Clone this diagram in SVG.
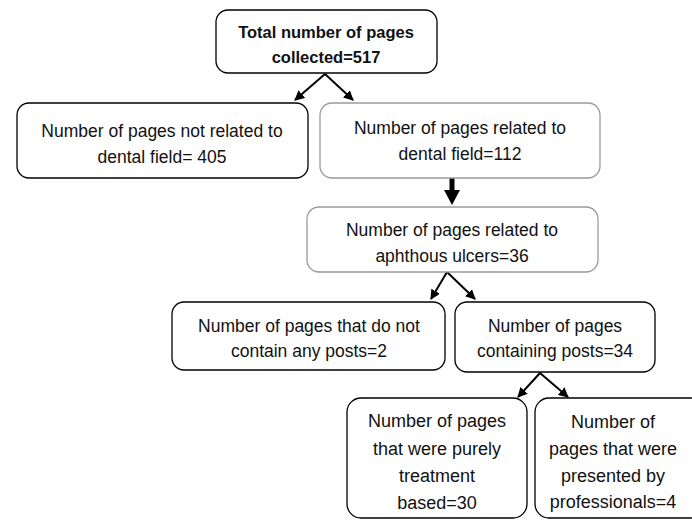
<svg xmlns="http://www.w3.org/2000/svg" width="692" height="520" viewBox="0 0 692 520">
<defs>
<style>
.box{fill:#fff;stroke:#000;stroke-width:1.3}
.gbox{fill:#fff;stroke:#9a9a9a;stroke-width:1.3}
text{font-family:"Liberation Sans",Arial,sans-serif;font-size:17.5px;fill:#111;text-anchor:middle}
.b{font-weight:bold;font-size:16.5px}
.l{font-size:18px}
.c{stroke:#000;stroke-width:2;fill:none}
</style>
<marker id="ah" viewBox="0 0 10 10" refX="9" refY="5" markerWidth="5" markerHeight="5" orient="auto-start-reverse">
<path d="M0,0 L10,5 L0,10 z" fill="#000"/>
</marker>
</defs>
<rect width="692" height="520" fill="#fff"/>
<g id="connectors">
<line class="c" x1="325" y1="74" x2="295" y2="100" marker-end="url(#ah)"/>
<line class="c" x1="325" y1="74" x2="353" y2="100" marker-end="url(#ah)"/>
<line x1="452" y1="178" x2="452" y2="192" stroke="#000" stroke-width="5"/>
<path d="M444,190 L460,190 L452,205 z" fill="#000"/>
<line class="c" x1="447" y1="272" x2="431" y2="299" marker-end="url(#ah)"/>
<line class="c" x1="447" y1="272" x2="475" y2="299" marker-end="url(#ah)"/>
<line class="c" x1="540" y1="373" x2="518" y2="397" marker-end="url(#ah)"/>
<line class="c" x1="540" y1="373" x2="568" y2="397" marker-end="url(#ah)"/>
</g>
<g id="n_total">
<rect class="box" x="216" y="10" width="221" height="63" rx="12"/>
<text class="b" x="326" y="38">Total number of pages</text>
<text class="b" x="326" y="63">collected=517</text>
</g>
<g id="n_notrelated">
<rect class="box" x="17" y="103" width="291" height="75" rx="12"/>
<text x="162" y="137">Number of pages not related to</text>
<text x="162" y="163">dental field= 405</text>
</g>
<g id="n_related">
<rect class="gbox" x="320" y="103" width="280" height="75" rx="12"/>
<text x="460" y="134">Number of pages related to</text>
<text x="460" y="160">dental field=112</text>
</g>
<g id="n_aphthous">
<rect class="gbox" x="307" y="207" width="291" height="65" rx="12"/>
<text x="452" y="236">Number of pages related to</text>
<text x="452" y="262">aphthous ulcers=36</text>
</g>
<g id="n_noposts">
<rect class="box" x="172" y="302" width="273" height="68" rx="12"/>
<text x="309" y="332">Number of pages that do not</text>
<text x="309" y="357">contain any posts=2</text>
</g>
<g id="n_posts">
<rect class="box" x="455" y="302" width="200" height="70" rx="12"/>
<text x="555" y="332">Number of pages</text>
<text x="555" y="357">containing posts=34</text>
</g>
<g id="n_treatment">
<rect class="box" x="347" y="398" width="180" height="120" rx="14"/>
<text class="l" x="437" y="427">Number of pages</text>
<text class="l" x="437" y="455">that were purely</text>
<text class="l" x="437" y="482">treatment</text>
<text class="l" x="437" y="509">based=30</text>
</g>
<g id="n_professionals">
<rect class="box" x="535" y="398" width="170" height="120" rx="14"/>
<text class="l" x="613" y="428">Number of</text>
<text class="l" x="613" y="455">pages that were</text>
<text class="l" x="613" y="482">presented by</text>
<text class="l" x="613" y="508">professionals=4</text>
</g>
</svg>
